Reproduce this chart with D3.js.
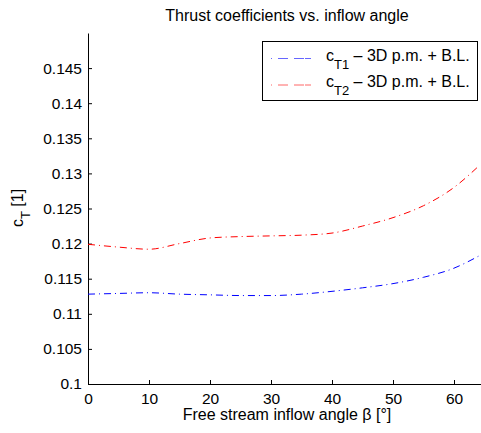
<!DOCTYPE html>
<html>
<head>
<meta charset="utf-8">
<script src="https://cdn.jsdelivr.net/npm/d3@7"></script>
<style>
    body { margin: 0; background: #fff; }
    svg { font-family: "Liberation Sans", Arial, sans-serif; }
    .axis path, .axis line { stroke: #000; stroke-width: 1; }
    .axis text { font-size: 15.5px; fill: #000; }
</style>
</head>
<body>
<svg id="chart" width="481" height="433"></svg>
<script>
"use strict";

// inflow angle beta [deg]
var beta = [0, 5, 10, 15, 20, 25, 30, 35, 40, 45, 50, 55, 60, 64];
// thrust coefficients
var ct1 = [0.1128, 0.1129, 0.1130, 0.1128, 0.1127, 0.1126, 0.1126, 0.1128, 0.1132, 0.1137, 0.1143, 0.1152, 0.1165, 0.1182];
var ct2 = [0.1199, 0.1195, 0.1192, 0.1200, 0.1208, 0.1210, 0.1211, 0.1212, 0.1215, 0.1225, 0.1237, 0.1254, 0.1280, 0.1310];

var x_ticks = [0, 10, 20, 30, 40, 50, 60];
var y_ticks = [0.1, 0.105, 0.11, 0.115, 0.12, 0.125, 0.13, 0.135, 0.14, 0.145];

var series = [
    { name: "T1", values: ct1, color: "#0000ff" },
    { name: "T2", values: ct2, color: "#ff0000" }
];

var svg = d3.select("#chart");

var plot = { left: 88, right: 484.5, top: 33, bottom: 384 };

var x = d3.scaleLinear().domain([0, 65]).range([plot.left, plot.right]);
var y = d3.scaleLinear().domain([0.1, 0.15]).range([plot.bottom, plot.top]);

// axes (ticks point inward, no box)
svg.append("g")
    .attr("class", "axis")
    .attr("transform", "translate(0," + plot.bottom + ")")
    .call(d3.axisBottom(x).tickValues(x_ticks).tickSize(-4).tickSizeOuter(0)
        .tickPadding(9).tickFormat(d3.format("d")));

svg.append("g")
    .attr("class", "axis")
    .attr("transform", "translate(" + plot.left + ",0)")
    .call(d3.axisLeft(y).tickValues(y_ticks).tickSize(-4).tickSizeOuter(0)
        .tickPadding(6).tickFormat(function (d) {
            return String(+d.toFixed(3));
        }));

// curves
var line = d3.line()
    .x(function (d) { return x(d[0]); })
    .y(function (d) { return y(d[1]); })
    .curve(d3.curveMonotoneX);

series.forEach(function (s) {
    svg.append("path")
        .datum(beta.map(function (b, i) { return [b, s.values[i]]; }))
        .attr("fill", "none")
        .attr("stroke", s.color)
        .attr("stroke-width", 1)
        .attr("stroke-dasharray", "7,4,1,4")
        .attr("d", line);
});

// title and labels
svg.append("text")
    .attr("x", 287).attr("y", 21)
    .attr("text-anchor", "middle")
    .attr("font-size", 16)
    .text("Thrust coefficients vs. inflow angle");

svg.append("text")
    .attr("x", 287).attr("y", 420)
    .attr("text-anchor", "middle")
    .attr("font-size", 16)
    .text("Free stream inflow angle β [°]");

var ylab = svg.append("text")
    .attr("transform", "translate(23,208) rotate(-90)")
    .attr("text-anchor", "middle")
    .attr("font-size", 16);
ylab.append("tspan").text("c");
ylab.append("tspan").attr("dy", 7).attr("font-size", 13).text("T");
ylab.append("tspan").attr("dy", -7).text(" [1]");

// legend
var legend = svg.append("g");
legend.append("rect")
    .attr("x", 262.5).attr("y", 41.5)
    .attr("width", 215).attr("height", 59)
    .attr("fill", "#fff").attr("stroke", "#000");

series.forEach(function (s, i) {
    var ly = 58.5 + i * 26.5;
    legend.append("line")
        .attr("x1", 271).attr("x2", 313)
        .attr("y1", ly).attr("y2", ly)
        .attr("stroke", s.color)
        .attr("stroke-dasharray", "1,6,10,6,10")
        .attr("stroke-opacity", 0.6);
    var t = legend.append("text")
        .attr("x", 326).attr("y", ly + 2)
        .attr("font-size", 16);
    t.append("tspan").text("c");
    t.append("tspan").attr("dy", 8).attr("font-size", 13).text(s.name);
    t.append("tspan").attr("dy", -8).text(" – 3D p.m. + B.L.");
});
</script>
</body>
</html>
